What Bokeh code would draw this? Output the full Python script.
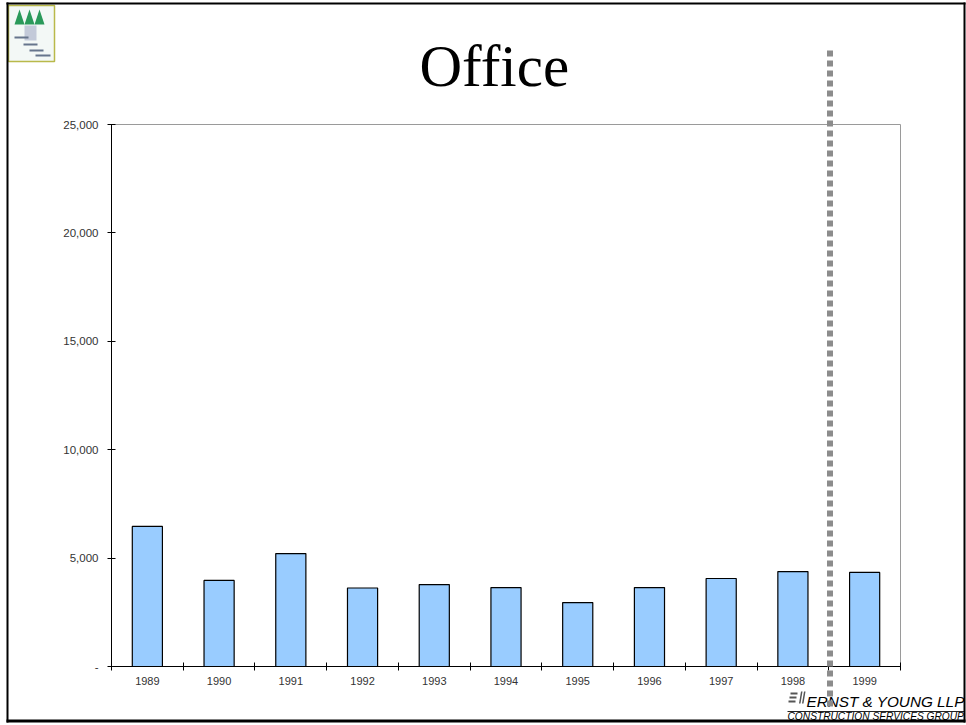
from bokeh.plotting import figure
from bokeh.embed import file_html
from bokeh.resources import INLINE
from bokeh.models import Range1d, FixedTicker, Title
from bokeh.core.properties import value

years = ["1989","1990","1991","1992","1993","1994","1995","1996","1997","1998","1999"]
values = [6460,3970,5210,3620,3780,3640,2950,3640,4060,4380,4340]
y_ticks = [0,5000,10000,15000,20000,25000]
y_labels = ["-","5,000","10,000","15,000","20,000","25,000"]
title_text = "Office"
company = "ERNST & YOUNG LLP"
division = "CONSTRUCTION SERVICES GROUP"

POS = {"position":"absolute","left":"0px","top":"0px"}

p = figure(width=966, height=725, output_backend="svg", toolbar_location=None,
           x_range=Range1d(0,len(years)), y_range=Range1d(0,25000),
           min_border_left=111, min_border_right=66, min_border_top=124, min_border_bottom=59,
           styles=POS, background_fill_color="white", border_fill_color="white")
p.grid.visible = False
p.outline_line_color = "#9a9a9a"
p.outline_line_width = 1

centers = [i+0.5 for i in range(len(years))]
p.vbar(x=centers, top=values, width=0.42, fill_color="#99ccff", line_color="black", line_width=1.2)

xa = p.xaxis[0]
xa.ticker = FixedTicker(ticks=centers, minor_ticks=list(range(len(years)+1)))
xa.major_label_overrides = {c:y for c,y in zip(centers,years)}
xa.major_tick_in = 0; xa.major_tick_out = 0
xa.minor_tick_in = 4; xa.minor_tick_out = 4
xa.minor_tick_line_color = "black"
xa.axis_line_color = "black"
xa.major_label_standoff = 6
xa.major_label_text_font = "Liberation Sans"
xa.major_label_text_font_size = "11px"
xa.major_label_text_color = "#333333"

ya = p.yaxis[0]
ya.ticker = FixedTicker(ticks=y_ticks, minor_ticks=[])
ya.major_label_overrides = {t:l for t,l in zip(y_ticks,y_labels)}
ya.major_tick_in = 4; ya.major_tick_out = 4
ya.major_tick_line_color = "black"
ya.axis_line_color = "black"
ya.major_label_standoff = 9
ya.major_label_text_font = "Liberation Sans"
ya.major_label_text_font_size = "11.5px"
ya.major_label_text_color = "#333333"

p.title = Title(text=title_text, align="left", offset=308, standoff=51,
                text_font="Liberation Serif", text_font_size="59px",
                text_font_style="normal", text_color="black")

# transparent page-sized layer for what lies outside the plot frame (y runs downward, in page pixels)
o = figure(width=966, height=725, output_backend="svg", toolbar_location=None,
           x_range=Range1d(0,966), y_range=Range1d(725,0), min_border=0,
           styles=POS, background_fill_alpha=0, border_fill_alpha=0, outline_line_color=None)
o.axis.visible = False
o.grid.visible = False

# company mark
o.quad(left=[790,789,788], right=[797,796,795], top=[692,696,700], bottom=[694,698,702],
       fill_color="#555555", line_color=None)
for lx in (799,802):
    o.patch([lx+1.5,lx+3,lx+1,lx-0.5],[691,691,703,703], fill_color="#555555", line_color=None)
o.text(x=[806], y=[701], text=[company], text_font=value("Liberation Sans"), text_font_size="15.3px",
       text_font_style="italic", text_color="black", text_baseline="alphabetic")
o.segment(x0=[787], x1=[964], y0=[711], y1=[711], line_color="#222222", line_width=1)
o.text(x=[787], y=[716], text=[division], text_font=value("Liberation Sans"), text_font_size="10.2px",
       text_font_style="italic", text_color="black", text_baseline="alphabetic")

# thumbnail
o.quad(left=[8], right=[54], top=[5], bottom=[61], fill_color="#f3f8f6", line_color="#b9b94a", line_width=1.5)
for cx in (19,29,39):
    o.patch([cx-5,cx,cx+5],[24,9,24], fill_color="#2a9a5a", line_color=None)
o.quad(left=[24], right=[36], top=[25], bottom=[40], fill_color="#c3cad9", line_color=None)
o.quad(left=[14,23,29,35], right=[28,37,43,50], top=[36,43,49,54], bottom=[38,45,51,56],
       fill_color="#66758c", line_color=None)

# slide frame
o.quad(left=[6,963,6,6], right=[8,965,965,965], top=[2,2,2,719], bottom=[722,722,4,722],
       fill_color="black", line_color=None)

# divider
o.segment(x0=[829.5], x1=[829.5], y0=[50], y1=[710], line_color="#8c8c8c", line_width=6, line_dash="6 4")

open("out.html","w").write(file_html([p,o], INLINE))
